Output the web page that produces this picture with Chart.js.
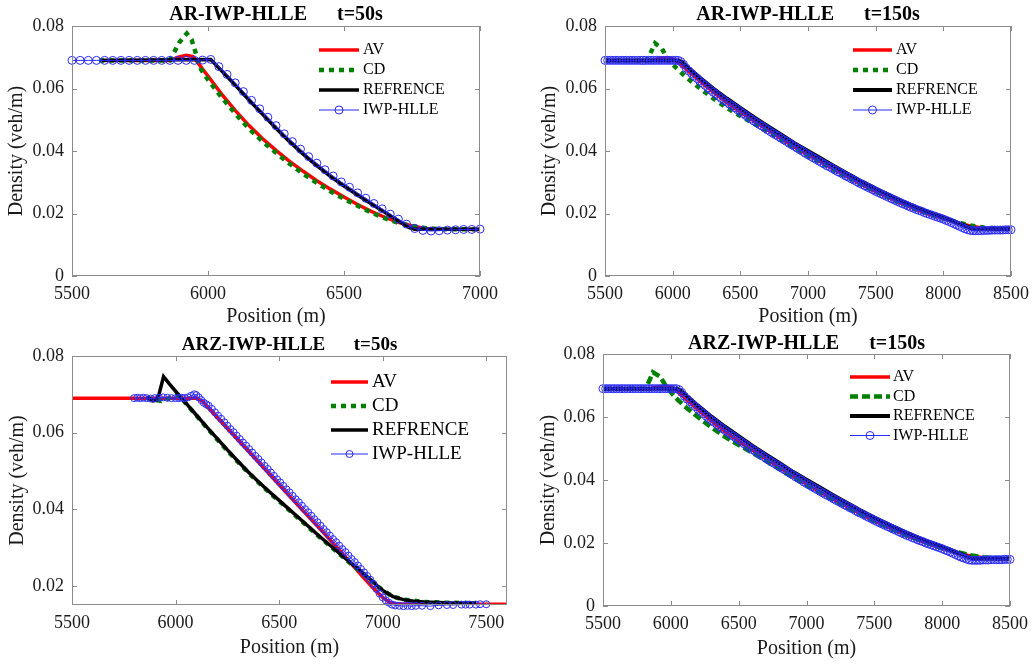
<!DOCTYPE html>
<html><head><meta charset="utf-8">
<script src="https://cdn.jsdelivr.net/npm/chart.js@4.4.0/dist/chart.umd.min.js"></script>
<style>
html,body{margin:0;padding:0;background:#fff;width:1036px;height:664px;overflow:hidden}
.c{position:absolute;width:518px;height:332px}
</style></head><body>
<div class="c" style="left:0;top:0"><canvas id="c1" width="518" height="332"></canvas></div>
<div class="c" style="left:518px;top:0"><canvas id="c2" width="518" height="332"></canvas></div>
<div class="c" style="left:0;top:332px"><canvas id="c3" width="518" height="332"></canvas></div>
<div class="c" style="left:518px;top:332px"><canvas id="c4" width="518" height="332"></canvas></div>
<script>
// ---------- tick labels / texts ----------
const xTicks1 = [5500, 6000, 6500, 7000];
const xTicks2 = [5500, 6000, 6500, 7000, 7500, 8000, 8500];
const xTicks3 = [5500, 6000, 6500, 7000, 7500];
const yTicksA = [0, 0.02, 0.04, 0.06, 0.08];
const yTicksB = [0.02, 0.04, 0.06, 0.08];
const seriesNames = ['AV', 'CD', 'REFRENCE', 'IWP-HLLE'];
const titles = ['AR-IWP-HLLE      t=50s', 'AR-IWP-HLLE      t=150s', 'ARZ-IWP-HLLE      t=50s', 'ARZ-IWP-HLLE      t=150s'];
const xLabel = 'Position (m)';
const yLabel = 'Density (veh/m)';

// ---------- panel 1 : AR t=50s ----------
const p1_av = [[5600,.0690],[5860,.0690],[5890,.0700],[5920,.0706],[5945,.0702],[5960,.0686],[5980,.0662],[6000,.0640],[6050,.0582],[6100,.0530],[6150,.0482],[6200,.0440],[6250,.0402],[6300,.0367],[6350,.0335],[6400,.0305],[6450,.0278],[6500,.0253],[6550,.0229],[6600,.0207],[6650,.0188],[6700,.0172],[6750,.0160],[6800,.0152],[6850,.0150],[7000,.0149]];
const p1_cd = [[5600,.0690],[5860,.0690],[5875,.0715],[5895,.0748],[5922,.0776],[5940,.0755],[5952,.0722],[5964,.0688],[5975,.0660],[6000,.0628],[6050,.0572],[6100,.0520],[6150,.0472],[6200,.0431],[6250,.0394],[6300,.0359],[6350,.0327],[6400,.0298],[6450,.0271],[6500,.0247],[6550,.0225],[6600,.0203],[6650,.0185],[6700,.0170],[6750,.0160],[6800,.0153],[6850,.0150],[7000,.0149]];
const p1_ref = [[5610,.0690],[6010,.0693],[6050,.0657],[6100,.0611],[6150,.0564],[6200,.0518],[6250,.0473],[6300,.0430],[6350,.0390],[6400,.0353],[6450,.0319],[6500,.0288],[6550,.0259],[6600,.0231],[6650,.0204],[6700,.0177],[6740,.0155],[6760,.0150],[7000,.0150]];
const p1_iwp = [[5500,.0690],[5530,.0690],[5560,.0690],[5590,.0690],[5620,.0690],[5650,.0690],[5680,.0690],[5710,.0690],[5740,.0690],[5770,.0690],[5800,.0690],[5830,.0690],[5860,.0690],[5890,.0690],[5920,.0690],[5950,.0690],[5980,.0691],[6010,.0693],[6040,.0670],[6070,.0645],[6100,.0618],[6130,.0590],[6160,.0562],[6190,.0535],[6220,.0508],[6250,.0481],[6280,.0455],[6310,.0430],[6340,.0406],[6370,.0382],[6400,.0361],[6430,.0340],[6460,.0320],[6490,.0301],[6520,.0284],[6550,.0266],[6580,.0249],[6610,.0232],[6640,.0215],[6670,.0198],[6700,.0182],[6730,.0166],[6760,.0152],[6790,.0146],[6820,.0144],[6850,.0145],[6880,.0147],[6910,.0148],[6940,.0149],[6970,.0149],[7000,.0150]];

// ---------- panel 2 : AR t=150s ----------
const p2_av = [[5500,.0690],[5850,.0690],[5900,.0696],[5960,.0699],[6010,.0693],[6050,.0680],[6100,.0662],[6200,.0624],[6300,.0588],[6400,.0555],[6500,.0525],[6600,.0496],[6700,.0468],[6800,.0440],[6900,.0413],[7000,.0388],[7100,.0363],[7200,.0339],[7300,.0315],[7400,.0292],[7500,.0270],[7600,.0250],[7700,.0231],[7800,.0213],[7900,.0197],[8000,.0183],[8100,.0170],[8200,.0160],[8300,.0153],[8400,.0151],[8500,.0150]];
const p2_cd = [[5500,.0690],[5810,.0690],[5835,.0712],[5870,.0745],[5920,.0728],[5955,.0700],[6000,.0677],[6050,.0656],[6100,.0636],[6200,.0601],[6300,.0568],[6400,.0538],[6500,.0512],[6600,.0488],[6700,.0462],[6800,.0436],[6900,.0410],[7000,.0385],[7100,.0361],[7200,.0337],[7300,.0314],[7400,.0291],[7500,.0270],[7600,.0250],[7700,.0231],[7800,.0214],[7900,.0198],[8000,.0184],[8100,.0172],[8200,.0162],[8300,.0155],[8400,.0152],[8500,.0151]];
const p2_ref = [[5500,.0690],[6040,.0690],[6070,.0685],[6100,.0672],[6200,.0635],[6300,.0600],[6400,.0568],[6500,.0538],[6600,.0508],[6700,.0480],[6800,.0453],[6900,.0425],[7000,.0400],[7100,.0375],[7200,.0350],[7300,.0326],[7400,.0302],[7500,.0280],[7600,.0259],[7700,.0239],[7800,.0220],[7900,.0203],[8000,.0188],[8100,.0172],[8150,.0163],[8200,.0154],[8230,.0150],[8500,.0150]];
const p2_iwp = [[5500,.0690],[5520,.0690],[5540,.0690],[5560,.0690],[5580,.0690],[5600,.0690],[5620,.0690],[5640,.0690],[5660,.0690],[5680,.0690],[5700,.0690],[5720,.0690],[5740,.0690],[5760,.0690],[5780,.0690],[5800,.0690],[5820,.0690],[5840,.0690],[5860,.0690],[5880,.0690],[5900,.0690],[5920,.0690],[5940,.0690],[5960,.0690],[5980,.0690],[6000,.0690],[6020,.0690],[6040,.0690],
[6060,.0686],[6080,.0677],[6100,.0665],[6120,.0656],[6140,.0648],[6160,.0640],[6180,.0632],[6200,.0624],[6220,.0617],[6240,.0610],[6260,.0602],[6280,.0595],[6300,.0588],[6320,.0582],[6340,.0575],[6360,.0568],[6380,.0562],[6400,.0556],[6420,.0550],[6440,.0544],[6460,.0538],[6480,.0532],[6500,.0526],[6520,.0520],[6540,.0514],[6560,.0508],[6580,.0502],[6600,.0496],[6620,.0491],[6640,.0485],[6660,.0480],[6680,.0474],[6700,.0468],[6720,.0463],[6740,.0457],[6760,.0452],[6780,.0447],[6800,.0441],[6820,.0436],[6840,.0431],[6860,.0425],[6880,.0420],[6900,.0415],[6920,.0409],[6940,.0404],[6960,.0399],[6980,.0393],[7000,.0388],
[7020,.0383],[7040,.0378],[7060,.0373],[7080,.0368],[7100,.0363],[7120,.0358],[7140,.0353],[7160,.0349],[7180,.0344],[7200,.0339],[7220,.0334],[7240,.0330],[7260,.0325],[7280,.0320],[7300,.0316],[7320,.0311],[7340,.0307],[7360,.0302],[7380,.0297],[7400,.0293],[7420,.0289],[7440,.0284],[7460,.0280],[7480,.0276],[7500,.0271],[7520,.0267],[7540,.0263],[7560,.0259],[7580,.0255],[7600,.0251],[7620,.0247],[7640,.0243],[7660,.0239],[7680,.0235],[7700,.0231],[7720,.0228],[7740,.0224],[7760,.0220],[7780,.0217],[7800,.0213],[7820,.0210],[7840,.0207],[7860,.0203],[7880,.0200],[7900,.0197],[7920,.0194],[7940,.0191],[7960,.0188],[7980,.0185],[8000,.0182],
[8020,.0178],[8040,.0175],[8060,.0171],[8080,.0167],[8100,.0163],[8120,.0159],[8140,.0155],[8160,.0151],[8180,.0148],[8200,.0146],[8220,.0145],[8240,.0145],[8260,.0145],[8280,.0145],[8300,.0146],[8320,.0146],[8340,.0146],[8360,.0147],[8380,.0147],[8400,.0147],[8420,.0147],[8440,.0147],[8460,.0148],[8480,.0148],[8500,.0148]];

// ---------- panel 3 : ARZ t=50s ----------
const p3_av = [[5500,.0690],[6100,.0690],[6130,.0682],[6160,.0664],[6200,.0640],[6300,.0582],[6400,.0523],[6500,.0464],[6600,.0405],[6700,.0347],[6800,.0288],[6900,.0226],[6950,.0196],[7000,.0170],[7030,.0158],[7060,.0153],[7100,.0152],[7600,.0152]];
const p3_cd = [[5860,.0690],[5900,.0686],[5930,.0683],[5960,.0688],[5990,.0695],[6010,.0698],[6030,.0689],[6050,.0676],[6100,.0645],[6150,.0613],[6200,.0583],[6250,.0553],[6300,.0524],[6350,.0496],[6400,.0470],[6450,.0445],[6500,.0421],[6550,.0397],[6600,.0373],[6650,.0349],[6700,.0325],[6750,.0302],[6800,.0279],[6850,.0256],[6900,.0234],[6950,.0211],[7000,.0188],[7050,.0172],[7100,.0164],[7200,.0158],[7300,.0156],[7450,.0155]];
const p3_ref = [[5860,.0690],[5875,.0689],[5890,.0683],[5905,.0684],[5920,.0700],[5932,.0725],[5942,.0746],[5970,.0727],[6000,.0708],[6050,.0677],[6100,.0646],[6150,.0615],[6200,.0585],[6250,.0555],[6300,.0526],[6350,.0498],[6400,.0472],[6450,.0447],[6500,.0423],[6550,.0399],[6600,.0375],[6650,.0351],[6700,.0327],[6750,.0304],[6800,.0281],[6850,.0258],[6900,.0236],[6950,.0212],[6980,.0197],[7000,.0188],[7050,.0172],[7100,.0164],[7150,.0160],[7200,.0158],[7300,.0156],[7450,.0155]];
const p3_iwp = [[5800,.0690],[5815,.0691],[5830,.0690],[5845,.0691],[5860,.0690],[5880,.0689],[5900,.0690],[5920,.0691],[5940,.0692],[5960,.0691],[5980,.0690],[6000,.0690],[6015,.0690],[6030,.0691],[6045,.0690],[6060,.0692],[6075,.0696],[6090,.0700],[6100,.0698],[6112,.0692],[6124,.0685],[6136,.0678],[6148,.0674],[6160,.0670],[6175,.0662],[6190,.0653],[6205,.0644],[6220,.0636],[6235,.0627],[6250,.0618],[6265,.0609],[6280,.0601],[6295,.0592],[6310,.0583],[6325,.0574],[6340,.0566],[6355,.0557],[6370,.0548],[6385,.0539],[6400,.0531],[6415,.0522],[6430,.0513],[6445,.0505],[6460,.0496],[6475,.0487],[6490,.0478],[6505,.0470],[6520,.0461],[6535,.0452],[6550,.0444],[6565,.0435],[6580,.0426],[6595,.0418],[6610,.0409],[6625,.0400],[6640,.0392],[6655,.0383],[6670,.0374],[6685,.0366],[6700,.0357],[6715,.0348],[6730,.0340],[6745,.0331],[6760,.0322],[6775,.0314],[6790,.0305],[6805,.0296],[6820,.0288],[6835,.0279],[6850,.0270],[6865,.0262],[6880,.0253],[6895,.0244],[6910,.0235],[6925,.0226],[6940,.0216],[6955,.0205],[6970,.0192],[6985,.0180],[7000,.0170],[7015,.0162],[7030,.0156],[7045,.0151],[7060,.0149],[7080,.0148],[7100,.0147],[7120,.0148],[7140,.0147],[7160,.0148],[7190,.0148],[7230,.0147],[7270,.0149],[7310,.0150],[7340,.0150],[7380,.0151],[7400,.0151],[7420,.0151],[7450,.0151],[7470,.0152],[7500,.0152]];

// ---------- panel 4 : ARZ t=150s ----------
const p4_av = [[5500,.0690],[5850,.0690],[5900,.0695],[5960,.0698],[6010,.0693],[6050,.0680],[6100,.0661],[6200,.0623],[6300,.0587],[6400,.0554],[6500,.0524],[6600,.0495],[6700,.0467],[6800,.0440],[6900,.0413],[7000,.0387],[7100,.0362],[7200,.0338],[7300,.0315],[7400,.0292],[7500,.0270],[7600,.0250],[7700,.0231],[7800,.0213],[7900,.0197],[8000,.0183],[8100,.0170],[8200,.0160],[8300,.0153],[8400,.0151],[8500,.0150]];
const p4_cd = [[5500,.0690],[5815,.0690],[5838,.0712],[5868,.0742],[5922,.0728],[5958,.0702],[6005,.0676],[6050,.0655],[6100,.0635],[6200,.0600],[6300,.0567],[6400,.0537],[6500,.0511],[6600,.0487],[6700,.0461],[6800,.0435],[6900,.0409],[7000,.0384],[7100,.0360],[7200,.0336],[7300,.0313],[7400,.0291],[7500,.0270],[7600,.0250],[7700,.0231],[7800,.0214],[7900,.0198],[8000,.0184],[8100,.0172],[8200,.0162],[8300,.0155],[8400,.0152],[8500,.0151]];
const p4_ref = [[5500,.0690],[6045,.0690],[6075,.0684],[6100,.0673],[6200,.0636],[6300,.0601],[6400,.0569],[6500,.0539],[6600,.0509],[6700,.0481],[6800,.0454],[6900,.0426],[7000,.0401],[7100,.0376],[7200,.0351],[7300,.0327],[7400,.0303],[7500,.0281],[7600,.0260],[7700,.0240],[7800,.0221],[7900,.0204],[8000,.0188],[8100,.0172],[8150,.0163],[8200,.0154],[8230,.0150],[8500,.0150]];
const p4_iwp = [[5500,.0690],[5520,.0690],[5540,.0690],[5560,.0690],[5580,.0690],[5600,.0690],[5620,.0690],[5640,.0690],[5660,.0690],[5680,.0690],[5700,.0690],[5720,.0690],[5740,.0690],[5760,.0690],[5780,.0690],[5800,.0690],[5820,.0690],[5840,.0690],[5860,.0690],[5880,.0690],[5900,.0690],[5920,.0690],[5940,.0690],[5960,.0690],[5980,.0690],[6000,.0690],[6020,.0690],[6040,.0690],
[6060,.0687],[6080,.0678],[6100,.0666],[6120,.0657],[6140,.0649],[6160,.0641],[6180,.0633],[6200,.0625],[6220,.0618],[6240,.0611],[6260,.0603],[6280,.0596],[6300,.0589],[6320,.0583],[6340,.0576],[6360,.0569],[6380,.0563],[6400,.0557],[6420,.0551],[6440,.0545],[6460,.0539],[6480,.0533],[6500,.0527],[6520,.0521],[6540,.0515],[6560,.0509],[6580,.0503],[6600,.0497],[6620,.0492],[6640,.0486],[6660,.0481],[6680,.0475],[6700,.0469],[6720,.0464],[6740,.0458],[6760,.0453],[6780,.0448],[6800,.0442],[6820,.0437],[6840,.0432],[6860,.0426],[6880,.0421],[6900,.0416],[6920,.0410],[6940,.0405],[6960,.0400],[6980,.0394],[7000,.0389],
[7020,.0384],[7040,.0379],[7060,.0374],[7080,.0369],[7100,.0364],[7120,.0359],[7140,.0354],[7160,.0350],[7180,.0345],[7200,.0340],[7220,.0335],[7240,.0331],[7260,.0326],[7280,.0321],[7300,.0317],[7320,.0312],[7340,.0308],[7360,.0303],[7380,.0298],[7400,.0294],[7420,.0290],[7440,.0285],[7460,.0281],[7480,.0277],[7500,.0272],[7520,.0268],[7540,.0264],[7560,.0260],[7580,.0256],[7600,.0252],[7620,.0248],[7640,.0244],[7660,.0240],[7680,.0236],[7700,.0232],[7720,.0228],[7740,.0224],[7760,.0221],[7780,.0217],[7800,.0214],[7820,.0210],[7840,.0207],[7860,.0204],[7880,.0200],[7900,.0197],[7920,.0194],[7940,.0191],[7960,.0188],[7980,.0185],[8000,.0182],
[8020,.0178],[8040,.0175],[8060,.0171],[8080,.0167],[8100,.0163],[8120,.0159],[8140,.0155],[8160,.0152],[8180,.0149],[8200,.0146],[8220,.0145],[8240,.0145],[8260,.0145],[8280,.0145],[8300,.0146],[8320,.0146],[8340,.0146],[8360,.0147],[8380,.0147],[8400,.0147],[8420,.0147],[8440,.0147],[8460,.0148],[8480,.0148],[8500,.0148]];

// ---------- drawing ----------
const FONT = '"Liberation Serif", "Times New Roman", serif';
const toXY = arr => arr.map(([x, y]) => ({x, y}));

const matlabPlugin = {
  id: 'matlab',
  afterDatasetsDraw(chart, args, o) {
    const {ctx, chartArea: a} = chart;
    const xs = chart.scales.x, ys = chart.scales.y;
    ctx.save();
    ctx.strokeStyle = '#8c8c8c'; ctx.lineWidth = 1; ctx.setLineDash([]);
    ctx.strokeRect(a.left + 0.5, a.top + 0.5, a.right - a.left - 1, a.bottom - a.top - 1);
    ctx.beginPath();
    xs.ticks.forEach(t => {
      const p = Math.round(xs.getPixelForValue(t.value)) + 0.5;
      ctx.moveTo(p, a.bottom); ctx.lineTo(p, a.bottom - 5);
      ctx.moveTo(p, a.top); ctx.lineTo(p, a.top + 5);
    });
    ys.ticks.forEach(t => {
      const p = Math.round(ys.getPixelForValue(t.value)) + 0.5;
      ctx.moveTo(a.left, p); ctx.lineTo(a.left + 5, p);
      ctx.moveTo(a.right, p); ctx.lineTo(a.right - 5, p);
    });
    ctx.stroke();
    // title
    ctx.fillStyle = '#000';
    ctx.font = 'bold ' + o.titleSize + 'px ' + FONT;
    ctx.textAlign = 'center'; ctx.textBaseline = 'middle';
    ctx.fillText(o.title, (a.left + a.right) / 2, a.top - o.titleGap);
    // legend
    ctx.font = o.legendSize + 'px ' + FONT;
    ctx.textAlign = 'left';
    chart.data.datasets.forEach((d, i) => {
      const y = o.ly + i * o.ldy;
      ctx.save();
      ctx.strokeStyle = d.borderColor; ctx.lineWidth = d.borderWidth;
      ctx.setLineDash(d.borderDash || []);
      ctx.beginPath(); ctx.moveTo(o.lx, y); ctx.lineTo(o.lx + o.llen, y); ctx.stroke();
      if (d.pointRadius) {
        ctx.setLineDash([]); ctx.lineWidth = d.pointBorderWidth;
        ctx.beginPath(); ctx.arc(o.lx + o.llen / 2, y, d.pointRadius, 0, 2 * Math.PI); ctx.stroke();
      }
      ctx.restore();
      ctx.fillStyle = '#000';
      ctx.fillText(d.label, o.lx + o.llen + o.lgap, y);
    });
    ctx.restore();
  }
};

function makePanel(id, P) {
  const datasets = [
    {label: seriesNames[0], data: toXY(P.av), borderColor: '#ff0000', borderWidth: 3.5, pointRadius: 0, order: 4},
    {label: seriesNames[1], data: toXY(P.cd), borderColor: '#008000', borderWidth: 4.5, borderDash: P.cdDash, pointRadius: 0, order: 3},
    {label: seriesNames[2], data: toXY(P.ref), borderColor: '#000000', borderWidth: P.refW, pointRadius: 0, order: 2},
    {label: seriesNames[3], data: toXY(P.iwp), borderColor: '#2a2aff', borderWidth: 1, pointRadius: P.r, pointBorderWidth: 1,
     pointBorderColor: '#2a2aff', pointBackgroundColor: 'rgba(0,0,0,0)', order: 1, clip: false}
  ];
  new Chart(document.getElementById(id), {
    type: 'line',
    data: {datasets},
    plugins: [matlabPlugin],
    options: {
      responsive: false, animation: false,
      layout: {padding: {left: 0, right: P.padR, top: P.padT, bottom: 0}},
      elements: {line: {tension: 0}},
      plugins: {legend: {display: false}, tooltip: {enabled: false}, matlab: P.deco},
      scales: {
        x: {
          type: 'linear', min: P.xmin, max: P.xmax,
          afterBuildTicks: s => { s.ticks = P.xt.map(v => ({value: v})); },
          afterFit: s => { s.height = P.xH; },
          grid: {display: false, drawTicks: false}, border: {display: false},
          ticks: {callback: v => String(v), font: {family: FONT, size: 18}, color: '#1a1a1a', padding: 7, maxRotation: 0, autoSkip: false},
          title: {display: true, text: xLabel, font: {family: FONT, size: 20}, color: '#1a1a1a', padding: {top: 0, bottom: P.xtPad}}
        },
        y: {
          type: 'linear', min: P.ymin, max: P.ymax,
          afterBuildTicks: s => { s.ticks = P.yt.map(v => ({value: v})); },
          afterFit: s => { s.width = P.yW; },
          grid: {display: false, drawTicks: false}, border: {display: false},
          ticks: {callback: v => (v === 0 ? '0' : v.toFixed(2)), font: {family: FONT, size: 18}, color: '#1a1a1a', padding: 8, autoSkip: false},
          title: {display: true, text: yLabel, font: {family: FONT, size: 20}, color: '#1a1a1a', padding: {top: P.ytPad, bottom: 0}}
        }
      }
    }
  });
}

makePanel('c1', {av: p1_av, cd: p1_cd, ref: p1_ref, iwp: p1_iwp, cdDash: [5, 5], r: 4, refW: 3.5,
  xmin: 5500, xmax: 7000, ymin: 0, ymax: 0.08, xt: xTicks1, yt: yTicksA,
  padR: 38, padT: 26, xH: 56, yW: 72, xtPad: 3, ytPad: 5,
  deco: {title: titles[0], titleSize: 20, titleGap: 11, ly: 50, ldy: 20, lx: 319, llen: 40, lgap: 4, legendSize: 16}});

makePanel('c2', {av: p2_av, cd: p2_cd, ref: p2_ref, iwp: p2_iwp, cdDash: [5, 5], r: 4, refW: 4,
  xmin: 5500, xmax: 8500, ymin: 0, ymax: 0.08, xt: xTicks2, yt: yTicksA,
  padR: 23, padT: 26, xH: 56, yW: 87, xtPad: 3, ytPad: 20,
  deco: {title: titles[1], titleSize: 20, titleGap: 11, ly: 50, ldy: 20, lx: 335, llen: 39, lgap: 4, legendSize: 16}});

makePanel('c3', {av: p3_av, cd: p3_cd, ref: p3_ref, iwp: p3_iwp, cdDash: [5, 5], r: 3.5, refW: 3.5,
  xmin: 5500, xmax: 7600, ymin: 0.015, ymax: 0.08, xt: xTicks3, yt: yTicksB,
  padR: 11, padT: 24, xH: 59, yW: 72, xtPad: 4, ytPad: 6,
  deco: {title: titles[2], titleSize: 19, titleGap: 11, ly: 50, ldy: 24, lx: 331, llen: 37, lgap: 4, legendSize: 19}});

makePanel('c4', {av: p4_av, cd: p4_cd, ref: p4_ref, iwp: p4_iwp, cdDash: [8, 4], r: 4, refW: 4,
  xmin: 5500, xmax: 8500, ymin: 0, ymax: 0.08, xt: xTicks2, yt: yTicksA,
  padR: 26, padT: 22, xH: 58, yW: 85, xtPad: 3, ytPad: 19,
  deco: {title: titles[3], titleSize: 20, titleGap: 10, ly: 45, ldy: 19.5, lx: 332, llen: 40, lgap: 3, legendSize: 16}});
</script>
</body></html>
